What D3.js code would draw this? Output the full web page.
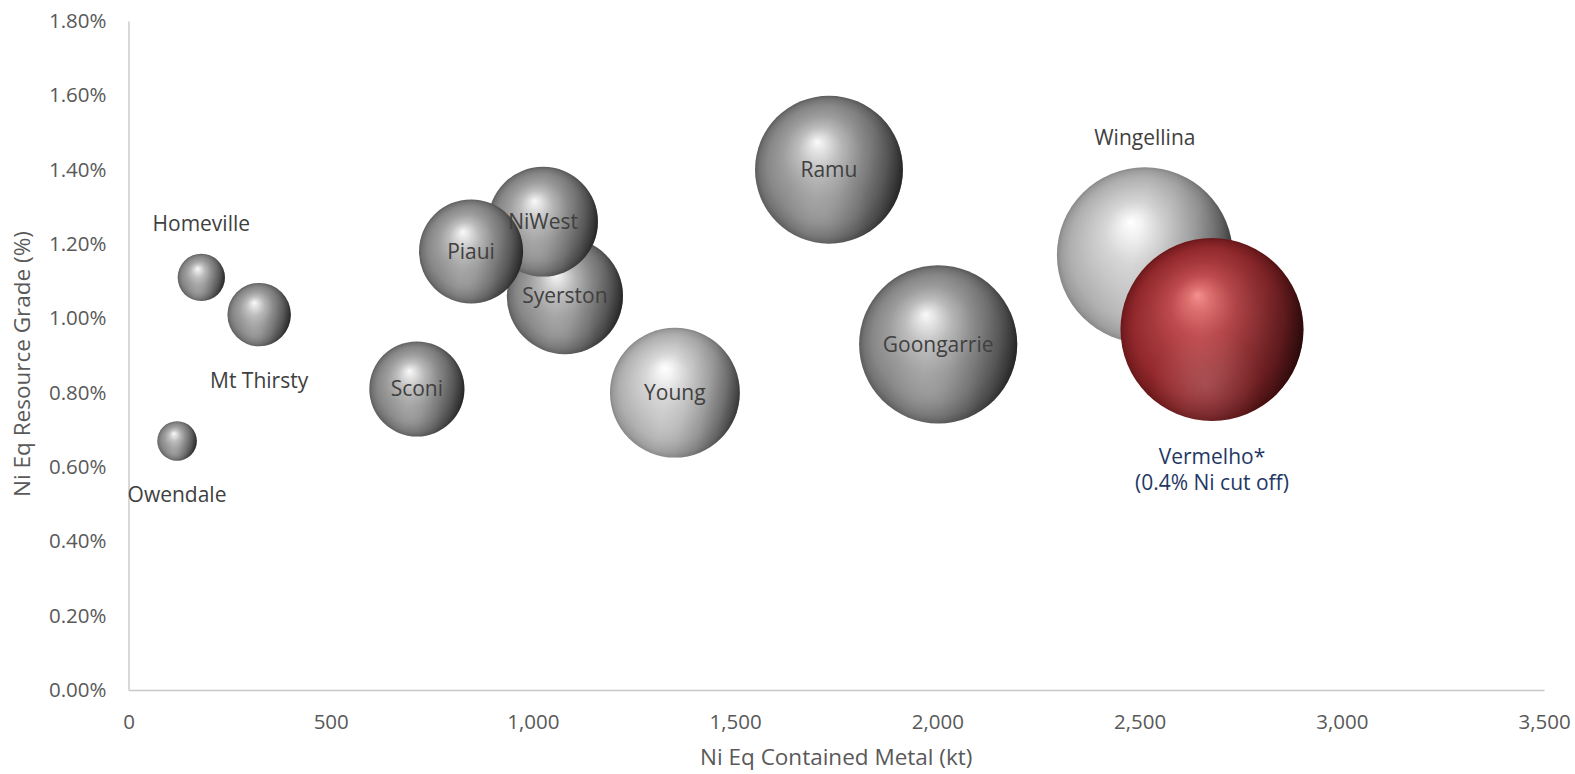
<!DOCTYPE html>
<html lang="en">
<head>
  <meta charset="UTF-8">
  <title>Nickel projects bubble chart</title>
  <script src="https://d3js.org/d3.v7.min.js"></script>
  <style>
    body { margin: 0; background: #fff; }
    svg { font-family: "Open Sans", sans-serif; }
    .tick text { fill: #595959; font-size: 20.5px; }
    .domain { stroke: #c8c8c8; stroke-width: 1.4; }
    .axis-title { fill: #595959; font-size: 22.5px; }
    .lbl { fill: #404040; font-size: 21px; }
    .lbl-main { fill: #1f3864; font-size: 21px; }
  </style>
</head>
<body>
<svg id="chart" width="1575" height="774"></svg>
<script>
// peer projects
const projects = ["Homeville", "Mt Thirsty", "Owendale", "Piaui", "NiWest", "Syerston", "Sconi", "Young", "Ramu", "Goongarrie", "Wingellina"];
const containedKt = [180, 323, 120, 847, 1025, 1079, 713, 1351, 1732, 2002, 2513];
const gradePct = [1.11, 1.01, 0.67, 1.18, 1.26, 1.06, 0.81, 0.80, 1.40, 0.93, 1.17];
const bubbleSize = [20, 36, 14, 97, 108, 121, 81, 151, 196, 224, 277];
const labelPlace = ["above", "below", "below", "center", "center", "center", "center", "center", "center", "center", "above"];

// highlighted project
const mainName = ["Vermelho*", "(0.4% Ni cut off)"];
const mainKt = [2679];
const mainGrade = [0.97];
const mainSize = [300];

const xTicks = [0, 500, 1000, 1500, 2000, 2500, 3000, 3500];
const yTicks = [0, 0.2, 0.4, 0.6, 0.8, 1.0, 1.2, 1.4, 1.6, 1.8];

const lightOnes = new Set(["Young", "Wingellina"]);

const W = 1575, H = 774;
const margin = { top: 21, right: 31, bottom: 84, left: 128.5 };

const svg = d3.select('#chart');

const x = d3.scaleLinear().domain([0, 3500]).range([margin.left, W - margin.right]);
const y = d3.scaleLinear().domain([0, 1.8]).range([H - margin.bottom, margin.top]);
const r = d3.scaleSqrt().domain([0, d3.max(mainSize.concat(bubbleSize))]).range([0, 91.5]);

// gradients for the sphere look
const defs = svg.append('defs');
const sphere = (id, stops) => {
  const g = defs.append('radialGradient').attr('id', id)
    .attr('cx', 0.5).attr('cy', 0.5).attr('r', 0.5).attr('fx', 0.42).attr('fy', 0.31);
  stops.forEach(([o, c]) => g.append('stop').attr('offset', o).attr('stop-color', c));
};
sphere('gray', [[0, '#fafafa'], [0.1, '#e4e4e4'], [0.3, '#bdbdbd'], [0.55, '#9d9d9d'], [0.8, '#878787'], [0.93, '#727272'], [1, '#5c5c5c']]);
sphere('light', [[0, '#ffffff'], [0.12, '#f2f2f2'], [0.35, '#d6d6d6'], [0.6, '#c2c2c2'], [0.82, '#afafaf'], [0.94, '#9c9c9c'], [1, '#888888']]);
sphere('red', [[0, '#f39090'], [0.12, '#de7070'], [0.35, '#bd4a4e'], [0.6, '#a4373b'], [0.82, '#93292d'], [0.94, '#7c1f22'], [1, '#6a1719']]);

// darker right side
const shade = defs.append('linearGradient').attr('id', 'shade')
  .attr('x1', 0).attr('y1', 0.35).attr('x2', 1).attr('y2', 0.55);
[[0, 0], [0.45, 0], [0.6, 0.06], [0.75, 0.18], [0.88, 0.36], [1, 0.6]].forEach(([o, a]) =>
  shade.append('stop').attr('offset', o).attr('stop-color', '#000').attr('stop-opacity', a));

// faint reflected light near the bottom
const refl = defs.append('radialGradient').attr('id', 'refl')
  .attr('cx', 0.47).attr('cy', 0.8).attr('r', 0.3);
refl.append('stop').attr('offset', 0).attr('stop-color', '#fff').attr('stop-opacity', 0.16);
refl.append('stop').attr('offset', 1).attr('stop-color', '#fff').attr('stop-opacity', 0);

// axes
const xAxis = d3.axisBottom(x).tickValues(xTicks).tickSize(0).tickSizeOuter(0).tickPadding(24)
  .tickFormat(d3.format(','));
const yAxis = d3.axisLeft(y).tickValues(yTicks).tickSize(0).tickSizeOuter(0).tickPadding(22)
  .tickFormat(d => d.toFixed(2) + '%');

svg.append('g').attr('transform', `translate(0,${y(0)})`).call(xAxis)
  .attr('font-family', null).attr('font-size', null);
svg.append('g').attr('transform', `translate(${margin.left},0)`).call(yAxis)
  .attr('font-family', null).attr('font-size', null);

svg.append('text').attr('class', 'axis-title')
  .attr('x', (x(0) + x(3500)) / 2).attr('y', 765).attr('text-anchor', 'middle')
  .text('Ni Eq Contained Metal (kt)');
svg.append('text').attr('class', 'axis-title')
  .attr('transform', 'translate(30,364) rotate(-90)').attr('text-anchor', 'middle')
  .text('Ni Eq Resource Grade (%)');

// bubble rows, larger ones first so smaller sit on top
const peers = projects.map((p, i) => ({
  name: p, kt: containedKt[i], grade: gradePct[i], size: bubbleSize[i], place: labelPlace[i]
})).sort((a, b) => b.size - a.size);

const main = { name: mainName, kt: mainKt[0], grade: mainGrade[0], size: mainSize[0] };

const drawSphere = (g, d, fill) => {
  const cx = x(d.kt), cy = y(d.grade), rr = r(d.size);
  g.append('circle').attr('cx', cx).attr('cy', cy).attr('r', rr).attr('fill', `url(#${fill})`);
  g.append('circle').attr('cx', cx).attr('cy', cy).attr('r', rr).attr('fill', 'url(#refl)');
  g.append('circle').attr('cx', cx).attr('cy', cy).attr('r', rr).attr('fill', 'url(#shade)');
};

const bubbles = svg.append('g');
peers.forEach(d => drawSphere(bubbles, d, lightOnes.has(d.name) ? 'light' : 'gray'));
drawSphere(bubbles, main, 'red');

// labels
const labels = svg.append('g');
peers.forEach(d => {
  const cx = x(d.kt), cy = y(d.grade), rr = r(d.size);
  let ly = cy;
  if (d.place === 'above') ly = cy - rr - 30;
  if (d.place === 'below') ly = cy + rr + 34;
  labels.append('text').attr('class', 'lbl')
    .attr('x', cx).attr('y', ly).attr('dy', '0.35em').attr('text-anchor', 'middle')
    .text(d.name);
});

const mcx = x(main.kt), mcy = y(main.grade), mr = r(main.size);
main.name.forEach((t, i) => {
  labels.append('text').attr('class', 'lbl-main')
    .attr('x', mcx).attr('y', mcy + mr + 36 + i * 26).attr('dy', '0.35em').attr('text-anchor', 'middle')
    .text(t);
});
</script>
</body>
</html>
